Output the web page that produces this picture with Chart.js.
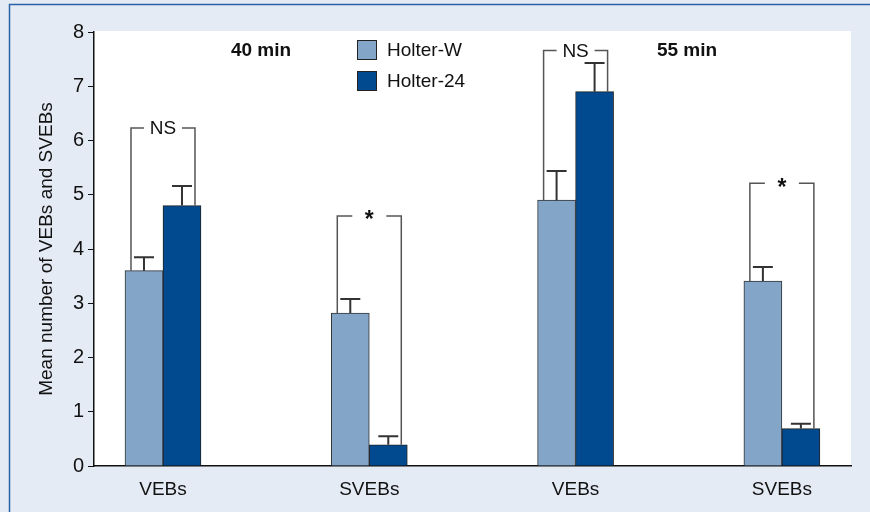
<!DOCTYPE html>
<html>
<head>
<meta charset="utf-8">
<script src="https://cdn.jsdelivr.net/npm/chart.js@4"></script>
<style>
  html, body { margin: 0; padding: 0; background: #e5ebf4; }
  #wrap { width: 870px; height: 512px; }
</style>
</head>
<body>
<div id="wrap"><canvas id="chart"></canvas></div>
<script>
// data
const categories = ['VEBs', 'SVEBs', 'VEBs', 'SVEBs'];
const holterW = [3.6, 2.82, 4.9, 3.41];
const holterWErr = [0.25, 0.26, 0.54, 0.26];
const holter24 = [4.8, 0.39, 6.9, 0.69];
const holter24Err = [0.36, 0.16, 0.53, 0.09];
const bracketLevel = [6.23, 4.61, 7.66, 5.21];
const bracketLabel = ['NS', '*', 'NS', '*'];
const periodLabels = ['40 min', '55 min'];
const periodPos = [0.475, 2.54];
const yTicks = [0, 1, 2, 3, 4, 5, 6, 7, 8];

const FONT = "'Liberation Sans', Arial, sans-serif";
const lightBlue = '#82a5c8';
const darkBlue = '#024a8f';

// background, border, white plot area
const backdrop = {
  id: 'backdrop',
  beforeDraw(chart) {
    const {ctx, chartArea: a} = chart;
    ctx.save();
    ctx.fillStyle = '#e5ebf4';
    ctx.fillRect(0, 0, chart.width, chart.height);
    ctx.fillStyle = '#ffffff';
    ctx.fillRect(a.left, a.top - 1, a.right - a.left, a.bottom - a.top + 1);
    ctx.strokeStyle = '#2a62a6';
    ctx.lineWidth = 1.5;
    ctx.beginPath();
    ctx.moveTo(9.5, chart.height);
    ctx.lineTo(9.5, 4.5);
    ctx.lineTo(chart.width, 4.5);
    ctx.stroke();
    ctx.restore();
  }
};

// error bars, brackets, labels, legend
const extras = {
  id: 'extras',
  afterDatasetsDraw(chart) {
    const {ctx} = chart;
    const xs = chart.scales.x, ys = chart.scales.y;
    const errs = [holterWErr, holter24Err];
    const means = [holterW, holter24];
    ctx.save();
    ctx.strokeStyle = '#333';
    ctx.lineWidth = 2;
    [0, 1].forEach(d => {
      chart.getDatasetMeta(d).data.forEach((bar, i) => {
        const yTop = ys.getPixelForValue(means[d][i] + errs[d][i]);
        ctx.beginPath();
        ctx.moveTo(bar.x, bar.y);
        ctx.lineTo(bar.x, yTop);
        ctx.moveTo(bar.x - 10, yTop);
        ctx.lineTo(bar.x + 10, yTop);
        ctx.stroke();
      });
    });

    // significance brackets
    ctx.strokeStyle = '#555';
    ctx.lineWidth = 1.5;
    ctx.fillStyle = '#111';
    ctx.textAlign = 'center';
    ctx.textBaseline = 'middle';
    categories.forEach((c, i) => {
      const cx = xs.getPixelForValue(i);
      const y = ys.getPixelForValue(bracketLevel[i]);
      const lx = cx - 32, rx = cx + 32;
      const ly = chart.getDatasetMeta(0).data[i].y;
      const ry = chart.getDatasetMeta(1).data[i].y;
      const star = bracketLabel[i] === '*';
      const half = star ? 17 : 19;
      ctx.beginPath();
      ctx.moveTo(lx, ly);
      ctx.lineTo(lx, y);
      ctx.lineTo(cx - half, y);
      ctx.moveTo(cx + half, y);
      ctx.lineTo(rx, y);
      ctx.lineTo(rx, ry);
      ctx.stroke();
      ctx.font = (star ? 'bold 23px ' : '19px ') + FONT;
      ctx.fillText(bracketLabel[i], cx, star ? y + 5 : y + 1);
    });

    // period labels
    ctx.font = 'bold 19px ' + FONT;
    periodLabels.forEach((t, i) => {
      ctx.fillText(t, xs.getPixelForValue(periodPos[i]), 51);
    });

    // legend
    ctx.textAlign = 'left';
    ctx.font = '19px ' + FONT;
    [[lightBlue, 'Holter-W'], [darkBlue, 'Holter-24']].forEach(([col, txt], k) => {
      const top = 40 + k * 31;
      ctx.fillStyle = col;
      ctx.fillRect(357, top, 20, 20);
      ctx.strokeStyle = '#222';
      ctx.lineWidth = 1;
      ctx.strokeRect(357.5, top + 0.5, 19, 19);
      ctx.fillStyle = '#111';
      ctx.fillText(txt, 387, top + 11);
    });
    ctx.restore();
  }
};

new Chart(document.getElementById('chart'), {
  type: 'bar',
  data: {
    datasets: [
      {
        label: 'Holter-W',
        data: holterW.map((v, i) => ({x: i, y: v})),
        backgroundColor: lightBlue,
        borderColor: '#333',
        borderWidth: 1
      },
      {
        label: 'Holter-24',
        data: holter24.map((v, i) => ({x: i, y: v})),
        backgroundColor: darkBlue,
        borderColor: '#222',
        borderWidth: 1
      }
    ]
  },
  options: {
    responsive: true,
    maintainAspectRatio: false,
    animation: false,
    barThickness: 38,
    layout: {padding: {left: 0, right: 19, top: 32, bottom: 0}},
    plugins: {legend: {display: false}, tooltip: {enabled: false}},
    scales: {
      x: {
        type: 'linear',
        offset: false,
        min: -0.3344,
        max: 3.335,
        afterBuildTicks: s => { s.ticks = categories.map((c, i) => ({value: i})); },
        afterFit: s => { s.height = 46; },
        grid: {display: false, drawTicks: false},
        border: {color: '#111', width: 1.5},
        ticks: {
          callback: v => categories[v],
          font: {family: FONT, size: 19},
          color: '#111',
          padding: 12,
          maxRotation: 0
        }
      },
      y: {
        min: 0,
        max: 8,
        afterBuildTicks: s => { s.ticks = yTicks.map(v => ({value: v})); },
        afterFit: s => { s.width = 94; },
        grid: {drawOnChartArea: false, tickLength: 6, color: '#111'},
        border: {color: '#111', width: 1.5},
        ticks: {
          font: {family: FONT, size: 20},
          color: '#111',
          padding: 4
        },
        title: {
          display: true,
          text: 'Mean number of VEBs and SVEBs',
          font: {family: FONT, size: 19},
          color: '#111',
          padding: {top: 35, bottom: 0}
        }
      }
    }
  },
  plugins: [backdrop, extras]
});
</script>
</body>
</html>
